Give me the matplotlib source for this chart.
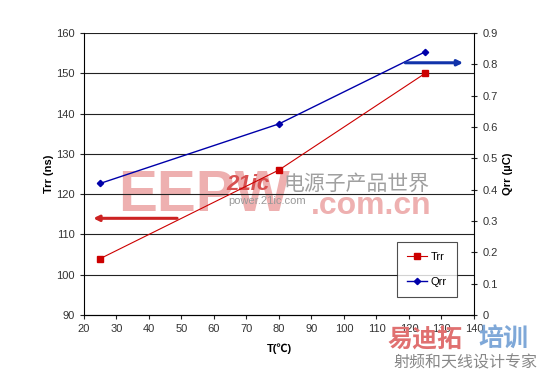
import matplotlib
matplotlib.use("Agg")
import matplotlib.pyplot as plt

# --- data ---
temps = [25, 80, 125]
trr_ns = [104, 126, 150]
qrr_uc = [0.42, 0.61, 0.84]

x_ticks = list(range(20, 141, 10))
left_ticks = list(range(90, 161, 10))
right_ticks = [0, 0.1, 0.2, 0.3, 0.4, 0.5, 0.6, 0.7, 0.8, 0.9]

CJK = ["Noto Sans CJK SC", "DejaVu Sans"]
plt.rcParams['font.family'] = ['Liberation Sans', 'Noto Sans CJK SC', 'DejaVu Sans']

fig = plt.figure(figsize=(5.5, 3.73), dpi=100)
ax = fig.add_axes([0.1527, 0.1555, 0.7091, 0.756])
ax2 = ax.twinx()

# horizontal grid on the left scale
for v in left_ticks[1:]:
    ax.axhline(v, color="#222222", lw=0.8, zorder=1)

# watermark behind the data lines
ft = fig.transFigure
ax.text(0.215, 0.435, "EEPW", fontsize=42, fontweight="bold", color="#eeb0b0",
        transform=ft, zorder=0.5)
ax.text(0.412, 0.49, "21ic", fontsize=16, fontweight="bold", style="italic",
        color="#d85050", transform=ft, zorder=0.6)
ax.text(0.515, 0.49, "电源子产品世界", fontsize=15, color="#a0a0a0",
        family=CJK, transform=ft, zorder=0.6)
ax.text(0.415, 0.452, "power.21ic.com", fontsize=8, color="#999999",
        transform=ft, zorder=0.6)
ax.text(0.565, 0.425, ".com.cn", fontsize=23, fontweight="bold", color="#eeb0b0",
        transform=ft, zorder=0.5)

ax.plot(temps, trr_ns, color="#cc0000", lw=0.8, marker="s", ms=4.5,
        label="Trr", zorder=3)
ax2.plot(temps, qrr_uc, color="#0000aa", lw=1.0, marker="D", ms=3.2,
         label="Qrr", zorder=3)

# arrows pointing to the axis each series belongs to
ax.annotate("", xy=(22, 114), xytext=(49.5, 114),
            arrowprops=dict(arrowstyle="-|>", color="#cc2222", lw=2.2,
                            mutation_scale=8))
ax2.annotate("", xy=(137.5, 0.805), xytext=(118, 0.805),
             arrowprops=dict(arrowstyle="-|>", color="#1133aa", lw=2.2,
                             mutation_scale=8))

ax.set_xlim(20, 140)
ax.set_ylim(90, 160)
ax2.set_ylim(0, 0.9)
ax.set_xticks(x_ticks)
ax.set_yticks(left_ticks)
ax2.set_yticks(right_ticks)
ax2.set_yticklabels(["0"] + [f"{t:.1f}" for t in right_ticks[1:]])

for a in (ax, ax2):
    a.spines["top"].set_visible(False)
    a.tick_params(labelsize=8, length=3, width=0.8, color="#222222",
                  labelcolor="#333333")
ax.spines["right"].set_visible(False)
ax2.spines["left"].set_visible(False)
ax2.tick_params(axis="y", direction="inout", length=5)

ax.set_xlabel("T(℃)", fontsize=8, fontweight="bold", labelpad=7)
ax.set_ylabel("Trr (ns)", fontsize=8, fontweight="bold", labelpad=2)
ax2.set_ylabel("Qrr (µC)", fontsize=8, fontweight="bold", labelpad=4, rotation=90)

h1, l1 = ax.get_legend_handles_labels()
h2, l2 = ax2.get_legend_handles_labels()
leg = ax2.legend(h1 + h2, l1 + l2, loc="lower right", bbox_to_anchor=(0.97, 0.045),
                 fontsize=8, frameon=True, fancybox=False, handlelength=1.8,
                 labelspacing=1.3, borderpad=0.9, handletextpad=0.3)
leg.get_frame().set_edgecolor("#222222")
leg.get_frame().set_linewidth(0.8)

# bottom-right watermark
fig.text(0.705, 0.072, "易迪拓", fontsize=18, fontweight="bold", color="#e07070",
         family=CJK)
fig.text(0.87, 0.072, "培训", fontsize=18, fontweight="bold", color="#7fa8d8",
         family=CJK)
fig.text(0.715, 0.015, "射频和天线设计专家", fontsize=11.5, color="#888888",
         family=CJK)

fig.savefig("out.png", dpi=100)
